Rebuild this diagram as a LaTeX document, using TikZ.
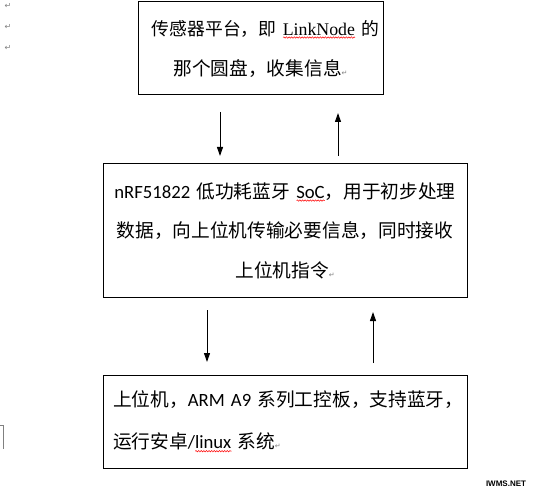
\documentclass[tikz,border=0pt]{standalone}
\usepackage{fontspec}
\usetikzlibrary{arrows.meta,decorations.pathmorphing}
\setmainfont{Liberation Serif}
\newfontfamily\cjk{Noto Sans CJK SC}
\newfontfamily\calfont{Carlito}
\newfontfamily\symfont{DejaVu Sans}
\newfontfamily\wmfont{Liberation Sans}
\newsavebox\wavebox
\newlength\wavelen
\newcommand\redwave[1]{\sbox\wavebox{#1}\setlength\wavelen{\wd\wavebox}%
  \rlap{\tikz[baseline=0pt]\draw[red, line width=0.5pt, decorate, decoration={snake, amplitude=0.7pt, segment length=2.6pt}] (0pt,-2.5pt) -- (\wavelen,-2.5pt);}\usebox\wavebox}
\newcommand\pmark{{\symfont\color{gray}\fontsize{7}{7}\selectfont ↵}}
\tikzset{
  flowbox/.style={draw=black, line width=1pt, rectangle, inner ysep=0pt,
    font=\fontsize{18.7}{40}\selectfont},
  flowarrow/.style={draw=black, line width=1pt, -{Triangle[width=6pt,length=9pt]}},
  retmark/.style={font=\symfont\fontsize{8}{8}\selectfont, text=gray, inner sep=0pt}
}
\begin{document}
\begin{tikzpicture}[x=1pt,y=-1pt]
\useasboundingbox[fill=white] (0,0) rectangle (539,495);

\node[flowbox, minimum width=245pt, minimum height=93pt, text width=241pt, inner xsep=2pt, align=center] (b1) at (260.5,48.5)
  {\mbox{\hspace{10pt}\fontsize{17.8}{40}\selectfont{\cjk 传感器平台，即} \redwave{LinkNode} {\cjk 的}}\\{\cjk 那个圆盘，收集信息}\pmark};

\node[flowbox, minimum width=364pt, minimum height=133pt, text width=360pt, inner xsep=2pt, align=center, font=\calfont\fontsize{18.7}{39.5}\selectfont] (b2) at (285,230.5)
  {\mbox{nRF51822 {\cjk 低功耗蓝牙} \redwave{SoC}{\cjk ，用于初步处理}}\\{\cjk 数据，向上位机传输必要信息，同时接收}\\{\cjk 上位机指令}\pmark};

\node[flowbox, minimum width=364pt, minimum height=93pt, text width=344pt, inner xsep=10pt, align=left, font=\calfont\fontsize{18.7}{42}\selectfont] (b3) at (285,421.5)
  {\mbox{{\cjk 上位机，}ARM A9 {\cjk 系列工控板，支持蓝牙，}}\\\mbox{{\cjk 运行安卓}/\redwave{linux} {\cjk 系统}\pmark}};

\coordinate (a1s) at (220,112);
\coordinate (a1e) at (220,156);
\coordinate (a2s) at (338,156);
\coordinate (a2e) at (338,113);
\coordinate (a3s) at (207,310);
\coordinate (a3e) at (207,362);
\coordinate (a4s) at (373,363);
\coordinate (a4e) at (373,312);
\draw[flowarrow] (a1s) -- (a1e);
\draw[flowarrow] (a2s) -- (a2e);
\draw[flowarrow] (a3s) -- (a3e);
\draw[flowarrow] (a4s) -- (a4e);

\node[retmark] (r1) at (8,6) {↵};
\node[retmark] (r2) at (8,27) {↵};
\node[retmark] (r3) at (8,48) {↵};

\draw[gray, line width=0.8pt] (0,425) -- (3,425) -- (3,449);

\node[font=\wmfont\bfseries\fontsize{8}{8}\selectfont, inner sep=0pt] (wm) at (506,484) {IWMS.NET};
\end{tikzpicture}
\end{document}
